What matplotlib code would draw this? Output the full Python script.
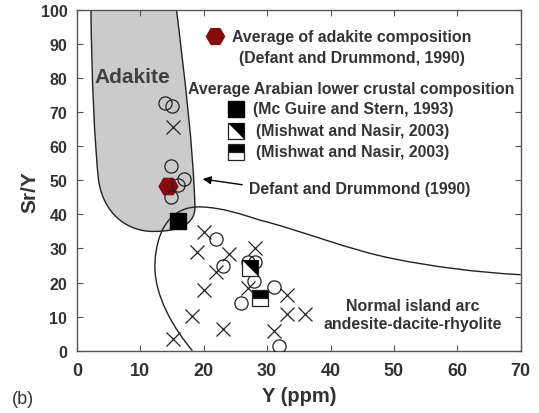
import numpy as np
import matplotlib
matplotlib.use("Agg")
import matplotlib.pyplot as plt
from matplotlib.path import Path
from matplotlib.patches import PathPatch

plt.rcParams['font.family'] = ['Liberation Sans', 'DejaVu Sans']

# sample data, Y (ppm) vs Sr/Y
circle_y = [13.9, 15.0, 14.9, 16.8, 16.0, 14.9, 22.0, 23.0, 26.9, 28.1, 27.9, 31.1, 25.9, 31.9]
circle_sry = [72.6, 71.7, 54.3, 50.3, 48.6, 45.2, 32.7, 24.8, 26.0, 26.0, 20.6, 18.7, 14.0, 1.3]

cross_y = [15.1, 20.0, 18.9, 24.0, 28.1, 22.0, 26.9, 20.0, 33.2, 18.1, 33.1, 36.0, 23.1, 31.0, 15.1]
cross_sry = [65.8, 34.9, 29.1, 28.5, 30.2, 23.1, 18.5, 17.9, 16.4, 10.3, 10.7, 10.8, 6.4, 5.7, 3.4]

# reference compositions
adakite_avg = (14.4, 48.4)
mcguire = (16.0, 38.1)
mishwat_a = (27.3, 24.3)
mishwat_b = (28.9, 15.4)

# field outlines (bezier vertices)
adakite_field = [(2.2, 100), (2.3, 80), (2.8, 60), (3.4, 50),
                 (4.2, 40), (8.0, 35.0), (12.0, 35.0),
                 (16.0, 35.0), (18.8, 37.0), (18.6, 42.7),
                 (18.3, 60), (17.0, 80), (15.7, 100),
                 (2.2, 100)]
normal_field = [(18.2, 0), (15.5, 6), (12.0, 16), (12.3, 26),
                (12.6, 36), (15.0, 42.5), (19.5, 42.2),
                (23.0, 42.0), (26.0, 40.0), (28.9, 38.3),
                (35.0, 35.5), (43.0, 29.5), (49.9, 27.0),
                (56.0, 24.7), (63.0, 23.0), (70.0, 22.3)]

txt = '#333333'
dark_red = '#8a0b0b'
fs = 11.4
tri = [(-1, 1), (1, 1), (1, -1)]  # upper-right half of a square

fig = plt.figure(figsize=(5.39, 4.14), dpi=100)
ax = fig.add_axes([0.1429, 0.1505, 0.8232, 0.8229])

codes = [Path.MOVETO] + [Path.CURVE4] * 12 + [Path.CLOSEPOLY]
ax.add_patch(PathPatch(Path(adakite_field, codes), facecolor='#cbcbcb',
                       edgecolor='#222222', lw=1.0, zorder=1))
codes = [Path.MOVETO] + [Path.CURVE4] * 15
ax.add_patch(PathPatch(Path(normal_field, codes), facecolor='none',
                       edgecolor='#222222', lw=1.0, zorder=1))

ax.plot(*adakite_avg, marker='H', ms=13.5, color=dark_red, ls='none', zorder=2)
ax.plot(circle_y, circle_sry, 'o', ms=9.5, mfc='none', mec='#222222', mew=0.9, zorder=3)
ax.plot(cross_y, cross_sry, 'x', ms=9.5, color='#222222', mew=0.9, zorder=3)
ax.plot(*mcguire, marker='s', ms=11.5, color='black', ls='none', zorder=4)
ax.plot(*mishwat_a, marker='s', ms=11.5, mfc='white', mec='#222222', mew=0.9, ls='none', zorder=4)
ax.plot(*mishwat_a, marker=tri, ms=11.5, color='black', mew=0, ls='none', zorder=5)
ax.plot(*mishwat_b, marker='s', ms=11.5, fillstyle='top', mfc='black', mfcalt='white',
        mec='#222222', mew=0.9, ls='none', zorder=4)

# key
ax.plot(21.8, 92.3, marker='H', ms=13, color=dark_red, ls='none', clip_on=False)
ax.text(24.4, 92.3, 'Average of adakite composition', fontsize=fs, fontweight='bold',
        color=txt, va='center', ha='left')
ax.text(43.3, 86.1, '(Defant and Drummond, 1990)', fontsize=fs, fontweight='bold',
        color=txt, va='center', ha='center')
ax.text(43.2, 77.0, 'Average Arabian lower crustal composition', fontsize=fs,
        fontweight='bold', color=txt, va='center', ha='center')
ax.plot(25.1, 71.0, marker='s', ms=11.5, color='black', ls='none')
ax.plot(25.1, 64.5, marker='s', ms=11.5, mfc='white', mec='#222222', mew=0.9, ls='none')
ax.plot(25.1, 64.5, marker=tri, ms=11.5, color='black', mew=0, ls='none')
ax.plot(25.1, 58.4, marker='s', ms=11.5, fillstyle='top', mfc='black', mfcalt='white',
        mec='#222222', mew=0.9, ls='none')
ax.text(27.8, 71.0, '(Mc Guire and Stern, 1993)', fontsize=fs, fontweight='bold',
        color=txt, va='center', ha='left')
ax.text(28.2, 64.5, '(Mishwat and Nasir, 2003)', fontsize=fs, fontweight='bold',
        color=txt, va='center', ha='left')
ax.text(28.2, 58.4, '(Mishwat and Nasir, 2003)', fontsize=fs, fontweight='bold',
        color=txt, va='center', ha='left')

ax.annotate('', xy=(19.4, 50.5), xytext=(26.5, 48.6),
            arrowprops=dict(arrowstyle='-|>', color='black', lw=1.0, mutation_scale=12))
ax.text(27.2, 47.6, 'Defant and Drummond (1990)', fontsize=fs, fontweight='bold',
        color=txt, va='center', ha='left')

ax.text(2.8, 80.5, 'Adakite', fontsize=15, fontweight='bold', color='#404040',
        va='center', ha='left')
ax.text(53.0, 13.4, 'Normal island arc', fontsize=fs, fontweight='bold',
        color=txt, va='center', ha='center')
ax.text(53.0, 8.1, 'andesite-dacite-rhyolite', fontsize=fs, fontweight='bold',
        color=txt, va='center', ha='center')

ax.set_xlim(0, 70)
ax.set_ylim(0, 100)
ax.set_xticks(np.arange(0, 71, 10))
ax.set_yticks(np.arange(0, 101, 10))
ax.tick_params(direction='in', top=True, right=True, length=4, width=0.8,
               color='#555555', labelcolor=txt)
ax.tick_params(axis='x', labelsize=13, pad=8)
ax.tick_params(axis='y', labelsize=11.5, pad=7)
for lab in ax.get_xticklabels() + ax.get_yticklabels():
    lab.set_fontweight('bold')
for sp in ax.spines.values():
    sp.set_color('#555555')
    sp.set_linewidth(1.0)

ax.set_xlabel('Y (ppm)', fontsize=14.5, fontweight='bold', color=txt, labelpad=5)
ax.set_ylabel('Sr/Y', fontsize=15, fontweight='bold', color=txt)
ax.yaxis.set_label_coords(-0.085, 0.47)
fig.text(0.022, 0.034, '(b)', fontsize=13, color=txt, va='center', ha='left')

fig.savefig('out.png', dpi=100)
